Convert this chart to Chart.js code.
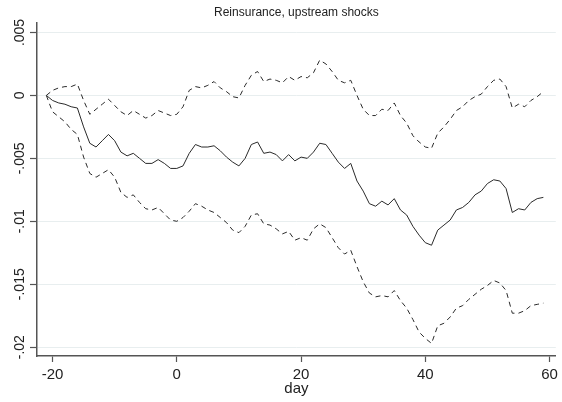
<!DOCTYPE html>
<html>
<head>
<meta charset="utf-8">
<title>Reinsurance, upstream shocks</title>
<script src="https://cdn.jsdelivr.net/npm/chart.js@4"></script>
<style>
  html, body { margin: 0; background: #fff; }
  canvas { display: block; }
</style>
</head>
<body>
<canvas id="carChart" width="562" height="402"></canvas>
<script>
// event days and the cumulative return estimate with its upper / lower bands
const days = [-21, -20, -19, -18, -17, -16, -15, -14, -13, -12, -11, -10, -9, -8, -7, -6, -5, -4, -3, -2, -1,
  0, 1, 2, 3, 4, 5, 6, 7, 8, 9, 10, 11, 12, 13, 14, 15, 16, 17, 18, 19,
  20, 21, 22, 23, 24, 25, 26, 27, 28, 29, 30, 31, 32, 33, 34, 35, 36, 37, 38, 39,
  40, 41, 42, 43, 44, 45, 46, 47, 48, 49, 50, 51, 52, 53, 54, 55, 56, 57, 58, 59];

const estimate = [0, -0.0004, -0.0006, -0.0007, -0.0009, -0.0010, -0.0025, -0.0038, -0.0041, -0.0036, -0.0031, -0.0036, -0.0045, -0.0048, -0.0046, -0.0050, -0.0054, -0.0054, -0.0051, -0.0054, -0.0058,
  -0.0058, -0.0056, -0.0046, -0.0039, -0.0041, -0.0041, -0.0040, -0.0044, -0.0049, -0.0053, -0.0056, -0.0050, -0.0039, -0.0037, -0.0046, -0.0045, -0.0047, -0.0052, -0.0047, -0.0052,
  -0.0049, -0.0050, -0.0045, -0.0038, -0.0039, -0.0046, -0.0053, -0.0058, -0.0054, -0.0068, -0.0076, -0.0086, -0.0088, -0.0084, -0.0087, -0.0082, -0.0091, -0.0095, -0.0104, -0.0111,
  -0.0117, -0.0119, -0.0107, -0.0103, -0.0099, -0.0091, -0.0089, -0.0085, -0.0079, -0.0076, -0.0070, -0.0067, -0.0068, -0.0074, -0.0093, -0.0090, -0.0091, -0.0085, -0.0082, -0.0081];

const upperBand = [0, 0.0004, 0.0006, 0.0007, 0.0007, 0.0009, -0.0004, -0.0015, -0.0011, -0.0007, -0.0003, -0.0008, -0.0013, -0.0016, -0.0012, -0.0015, -0.0018, -0.0016, -0.0012, -0.0014, -0.0016,
  -0.0015, -0.0009, 0.0004, 0.0007, 0.0006, 0.0008, 0.0011, 0.0006, 0.0003, -0.0001, -0.0002, 0.0008, 0.0016, 0.0019, 0.0011, 0.0013, 0.0012, 0.0010, 0.0015, 0.0012,
  0.0015, 0.0014, 0.0018, 0.0028, 0.0025, 0.0019, 0.0012, 0.0010, 0.0012, 0, -0.0011, -0.0016, -0.0016, -0.0011, -0.0012, -0.0006, -0.0016, -0.0022, -0.0032, -0.0037,
  -0.0041, -0.0042, -0.0030, -0.0025, -0.0019, -0.0012, -0.0009, -0.0004, -0.0001, 0.0001, 0.0007, 0.0012, 0.0013, 0.0007, -0.0010, -0.0007, -0.0009, -0.0004, -0.0001, 0.0003];

const lowerBand = [0, -0.0013, -0.0017, -0.0021, -0.0027, -0.0031, -0.0049, -0.0062, -0.0065, -0.0062, -0.0059, -0.0065, -0.0077, -0.0081, -0.0079, -0.0085, -0.0090, -0.0091, -0.0089, -0.0094, -0.0099,
  -0.0100, -0.0097, -0.0092, -0.0086, -0.0088, -0.0091, -0.0093, -0.0097, -0.0101, -0.0107, -0.0109, -0.0104, -0.0095, -0.0094, -0.0102, -0.0103, -0.0106, -0.0110, -0.0108, -0.0115,
  -0.0113, -0.0115, -0.0106, -0.0102, -0.0105, -0.0113, -0.0121, -0.0126, -0.0123, -0.0136, -0.0148, -0.0157, -0.0160, -0.0159, -0.0160, -0.0155, -0.0163, -0.0169, -0.0178, -0.0188,
  -0.0193, -0.0197, -0.0183, -0.0181, -0.0176, -0.0169, -0.0167, -0.0162, -0.0158, -0.0154, -0.0151, -0.0147, -0.0149, -0.0155, -0.0173, -0.0173, -0.0171, -0.0167, -0.0166, -0.0165];

const xTicks = [-20, 0, 20, 40, 60];
const yTicks = [0.005, 0, -0.005, -0.01, -0.015, -0.02];
const yTickLabels = ['.005', '0', '-.005', '-.01', '-.015', '-.02'];

const FONT = '"Liberation Sans", Arial, sans-serif';
const AXIS = '#555';
const INK = '#222';

function toPoints(values) {
  return values.map((v, i) => ({ x: days[i], y: v }));
}

function lineSet(label, values, dash) {
  return {
    label: label,
    data: toPoints(values),
    borderColor: '#2a2a2a',
    borderWidth: 1,
    borderDash: dash,
    pointRadius: 0,
    tension: 0,
    fill: false
  };
}

// y tick labels are written sideways, reading bottom to top
const sidewaysYLabels = {
  id: 'sidewaysYLabels',
  afterDraw(chart) {
    const yScale = chart.scales.y;
    const ctx = chart.ctx;
    ctx.save();
    ctx.font = '14px ' + FONT;
    ctx.fillStyle = INK;
    ctx.textAlign = 'center';
    ctx.textBaseline = 'middle';
    yTicks.forEach((v, i) => {
      ctx.save();
      ctx.translate(20, yScale.getPixelForValue(v));
      ctx.rotate(-Math.PI / 2);
      ctx.fillText(yTickLabels[i], 0, 0);
      ctx.restore();
    });
    ctx.restore();
  }
};

new Chart(document.getElementById('carChart'), {
  type: 'line',
  data: {
    datasets: [
      lineSet('upper', upperBand, [5, 4]),
      lineSet('estimate', estimate, []),
      lineSet('lower', lowerBand, [5, 4])
    ]
  },
  options: {
    responsive: false,
    animation: false,
    layout: { padding: { left: 0, right: 4, top: 0, bottom: 0 } },
    plugins: {
      legend: { display: false },
      tooltip: { enabled: false },
      title: {
        display: true,
        fullSize: false,
        text: 'Reinsurance, upstream shocks',
        color: INK,
        font: { family: FONT, size: 12, weight: 'normal' },
        padding: { top: 5, bottom: 3 }
      }
    },
    scales: {
      x: {
        type: 'linear',
        min: -22.5,
        max: 61,
        afterBuildTicks: s => { s.ticks = xTicks.map(v => ({ value: v })); },
        afterFit: s => { s.height = 46; },
        grid: { drawOnChartArea: false, drawTicks: true, tickLength: 6, tickColor: AXIS, tickWidth: 1.2 },
        border: { color: AXIS, width: 1.5 },
        ticks: { color: INK, font: { family: FONT, size: 15 }, padding: 4, maxRotation: 0, autoSkip: false },
        title: {
          display: true,
          text: 'day',
          color: INK,
          font: { family: FONT, size: 15 },
          padding: { top: 0, bottom: 4 }
        }
      },
      y: {
        type: 'linear',
        min: -0.0207,
        max: 0.0058,
        afterBuildTicks: s => { s.ticks = yTicks.map(v => ({ value: v })); },
        afterFit: s => { s.width = 37; },
        grid: { color: '#e8eeef', lineWidth: 1, drawTicks: true, tickLength: 7, tickColor: AXIS, tickWidth: 1.2 },
        border: { color: AXIS, width: 1.5 },
        ticks: { display: false }
      }
    }
  },
  plugins: [sidewaysYLabels]
});
</script>
</body>
</html>
